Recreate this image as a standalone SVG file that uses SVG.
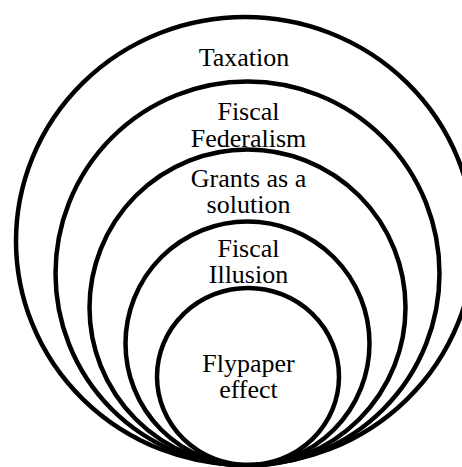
<svg xmlns="http://www.w3.org/2000/svg" width="462" height="467" viewBox="0 0 462 467">
<style>
.ring{fill:none;stroke:#000;stroke-width:4.5}
.lbl{font-family:"Liberation Serif","Times New Roman",serif;font-size:26px;fill:#000;text-anchor:middle}
</style>
<rect width="462" height="467" fill="#fff"/>
<g id="taxation">
<ellipse class="ring" cx="245" cy="241" rx="229" ry="224"/>
<text class="lbl" x="244" y="66">Taxation</text>
</g>
<g id="fiscal-federalism">
<circle class="ring" cx="247.5" cy="273.5" r="192"/>
<text class="lbl" x="248.5" y="120">Fiscal</text>
<text class="lbl" x="248.5" y="147">Federalism</text>
</g>
<g id="grants">
<circle class="ring" cx="247.5" cy="307.5" r="158"/>
<text class="lbl" x="248.5" y="187">Grants as a</text>
<text class="lbl" x="248.5" y="213">solution</text>
</g>
<g id="fiscal-illusion">
<circle class="ring" cx="247.5" cy="343.5" r="122"/>
<text class="lbl" x="248.5" y="257">Fiscal</text>
<text class="lbl" x="248.5" y="283">Illusion</text>
</g>
<g id="flypaper">
<ellipse class="ring" cx="248" cy="376.5" rx="91" ry="88.5"/>
<text class="lbl" x="248.5" y="372">Flypaper</text>
<text class="lbl" x="248.5" y="398">effect</text>
</g>
</svg>
